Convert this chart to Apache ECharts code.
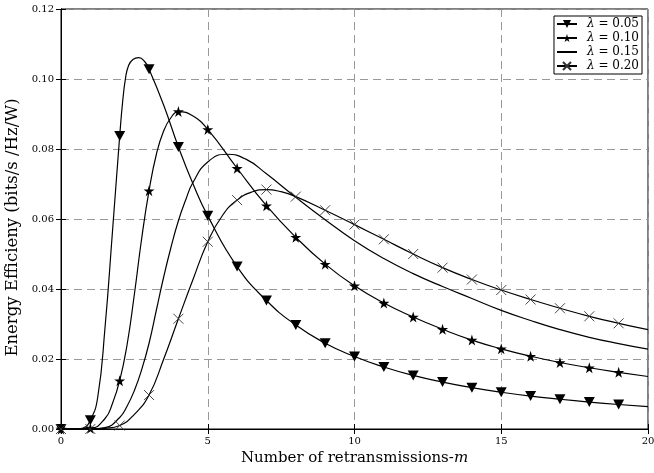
<!DOCTYPE html>
<html>
<head>
<meta charset="utf-8">
<script src="https://cdn.jsdelivr.net/npm/echarts@6/dist/echarts.min.js"></script>
<style>html,body{margin:0;padding:0;background:#fff}#c{width:654px;height:473px}</style>
</head>
<body>
<div id="c"></div>
<script>
// Legend names (lambda values)
const names = ['0.05', '0.10', '0.15', '0.20'];
const xTicks = [0, 5, 10, 15, 20];
const yTicks = [0, 0.02, 0.04, 0.06, 0.08, 0.10, 0.12];

// lambda = 0.05
const x05 = [0, 0.5, 0.75, 1, 1.25, 1.5, 1.75, 2, 2.1, 2.2, 2.3, 2.45, 2.65, 2.85, 3, 3.5, 4, 4.5, 5, 6, 7, 8, 9, 10, 11, 12, 13, 14, 15, 16, 17, 18, 19, 20];
const y05 = [0, 0, 0.0003, 0.0025, 0.009, 0.029, 0.056, 0.0837, 0.0935, 0.1003, 0.1038, 0.1056, 0.1061, 0.1050, 0.1028, 0.0925, 0.0806, 0.0700, 0.0609, 0.0464, 0.0367, 0.0297, 0.0245, 0.0207, 0.0177, 0.0153, 0.0134, 0.0118, 0.0105, 0.0094, 0.0085, 0.0077, 0.0070, 0.0064];

// lambda = 0.10
const x10 = [0, 1, 1.5, 1.75, 2, 2.25, 2.5, 2.75, 3, 3.25, 3.5, 3.75, 4, 4.5, 5, 6, 7, 8, 9, 10, 11, 12, 13, 14, 15, 16, 17, 18, 19, 20];
const y10 = [0, 0.0002, 0.003, 0.0072, 0.0138, 0.024, 0.0385, 0.0545, 0.0681, 0.0785, 0.0852, 0.0890, 0.0907, 0.0894, 0.0856, 0.0745, 0.0638, 0.0548, 0.0471, 0.0409, 0.0360, 0.0320, 0.0285, 0.0254, 0.0229, 0.0208, 0.0190, 0.0175, 0.0162, 0.0150];

// lambda = 0.15 (no markers)
const x15 = [0, 1, 1.5, 2, 2.25, 2.5, 2.75, 3, 3.25, 3.5, 3.75, 4, 4.25, 4.5, 5, 5.65, 6.3, 7, 8, 9, 10, 11, 12, 13, 14, 15, 16, 17, 18, 19, 20];
const y15 = [0, 0, 0.0004, 0.0033, 0.0065, 0.011, 0.017, 0.0245, 0.034, 0.0435, 0.052, 0.0595, 0.0655, 0.0705, 0.0763, 0.0785, 0.0771, 0.0729, 0.0662, 0.0598, 0.0538, 0.0487, 0.0444, 0.0407, 0.0373, 0.0339, 0.0310, 0.0284, 0.0262, 0.0244, 0.0228];

// lambda = 0.20
const x20 = [0, 1, 1.5, 2, 2.5, 3, 3.5, 4, 4.5, 5, 5.5, 6, 6.5, 7, 7.5, 8, 9, 10, 11, 12, 13, 14, 15, 16, 17, 18, 19, 20];
const y20 = [0, 0, 0.0002, 0.001, 0.0042, 0.0097, 0.0200, 0.0315, 0.0428, 0.0535, 0.0610, 0.0654, 0.0677, 0.0684, 0.0678, 0.0664, 0.0625, 0.0584, 0.0542, 0.0500, 0.0461, 0.0427, 0.0397, 0.0370, 0.0345, 0.0322, 0.0302, 0.0284];

const FONT = 'DejaVu Serif';
const TRI = 'path://M0,0L10,0L5,9Z';
const STAR = 'path://M50,0L61,35L98,35L68,57L79,91L50,70L21,91L32,57L2,35L39,35Z';
const CROSS = 'path://M0,0L10,10M10,0L0,10';

function build(xs, ys, marked) {
  return xs.map((x, i) => {
    const isMark = marked && Number.isInteger(x) && x < 20;
    return isMark ? [x, ys[i]] : { value: [x, ys[i]], symbol: 'none' };
  });
}

const lineStyle = { color: '#000', width: 1.2 };
const SM = 0.5;
const series = [
  { name: names[0], type: 'line', smooth: SM, data: build(x05, y05, true),
    symbol: TRI, symbolSize: [11, 10], showAllSymbol: true, lineStyle,
    itemStyle: { color: '#000' }, z: 4 },
  { name: names[1], type: 'line', smooth: SM, data: build(x10, y10, true),
    symbol: STAR, symbolSize: 11, showAllSymbol: true, lineStyle,
    itemStyle: { color: '#000' }, z: 4 },
  { name: names[2], type: 'line', smooth: SM, data: build(x15, y15, false),
    symbol: 'none', lineStyle, itemStyle: { color: '#000' }, z: 3 },
  { name: names[3], type: 'line', smooth: SM, data: build(x20, y20, true),
    symbol: CROSS, symbolSize: 10, showAllSymbol: true, lineStyle,
    itemStyle: { color: 'transparent', borderColor: '#333', borderWidth: 0.9 }, z: 4 }
];

const chart = echarts.init(document.getElementById('c'), null, { renderer: 'canvas' });
chart.setOption({
  animation: false,
  backgroundColor: '#fff',
  grid: { left: 61, right: 6, top: 9, bottom: 44, show: true, borderColor: '#000', borderWidth: 1,
    backgroundColor: 'transparent', containLabel: false, outerBoundsMode: 'none' },
  legend: {
    data: [
      { name: names[0] },
      { name: names[1] },
      { name: names[2], itemStyle: { color: 'transparent', borderWidth: 0, opacity: 0 } },
      { name: names[3] }
    ],
    orient: 'vertical', right: 12, top: 16,
    itemWidth: 20, itemHeight: 10, itemGap: 2,
    padding: [2, 3, 2, 2],
    backgroundColor: '#fff', borderColor: '#000', borderWidth: 1, borderRadius: 0,
    formatter: n => '{i|λ} = ' + n,
    textStyle: { fontFamily: FONT, fontSize: 12, color: '#000', lineHeight: 12, padding: [0, 0, 0, 5],
      rich: { i: { fontFamily: FONT, fontStyle: 'italic', fontSize: 12, color: '#000' } } }
  },
  xAxis: [{
    type: 'value', min: xTicks[0], max: xTicks[xTicks.length - 1], interval: 5,
    name: 'Number of retransmissions-{i|m}', nameLocation: 'middle', nameGap: 22,
    nameTextStyle: { fontFamily: FONT, fontSize: 15, color: '#000',
      rich: { i: { fontFamily: FONT, fontStyle: 'italic', fontSize: 15, color: '#000' } } },
    axisLine: { show: true, lineStyle: { color: '#000', width: 1 } },
    axisTick: { show: true, inside: true, length: 5, lineStyle: { color: '#000' } },
    axisLabel: { fontFamily: FONT, fontSize: 10, color: '#000', margin: 7 },
    splitLine: { show: true, lineStyle: { color: '#999', type: [8, 5], width: 1 } }
  }, {
    type: 'value', position: 'top', min: xTicks[0], max: xTicks[xTicks.length - 1], interval: 5,
    axisLine: { show: true, lineStyle: { color: '#000' } },
    axisTick: { show: true, inside: true, length: 5, lineStyle: { color: '#000' } },
    axisLabel: { show: false }, splitLine: { show: false }
  }],
  yAxis: [{
    type: 'value', min: yTicks[0], max: yTicks[yTicks.length - 1], interval: 0.02,
    name: 'Energy Efficieny (bits/s /Hz/W)', nameLocation: 'middle', nameGap: 35, nameRotate: 90,
    nameTextStyle: { fontFamily: FONT, fontSize: 16.5, color: '#000', padding: [0, 17, 0, 0] },
    axisLine: { show: true, lineStyle: { color: '#000', width: 1 } },
    axisTick: { show: true, inside: true, length: 5, lineStyle: { color: '#000' } },
    axisLabel: { fontFamily: FONT, fontSize: 10, color: '#000', margin: 7, formatter: v => v.toFixed(2) },
    splitLine: { show: true, lineStyle: { color: '#999', type: [8, 5], width: 1 } }
  }, {
    type: 'value', position: 'right', min: yTicks[0], max: yTicks[yTicks.length - 1], interval: 0.02,
    axisLine: { show: true, lineStyle: { color: '#000' } },
    axisTick: { show: true, inside: true, length: 5, lineStyle: { color: '#000' } },
    axisLabel: { show: false }, splitLine: { show: false }
  }],
  series
});
</script>
</body>
</html>
